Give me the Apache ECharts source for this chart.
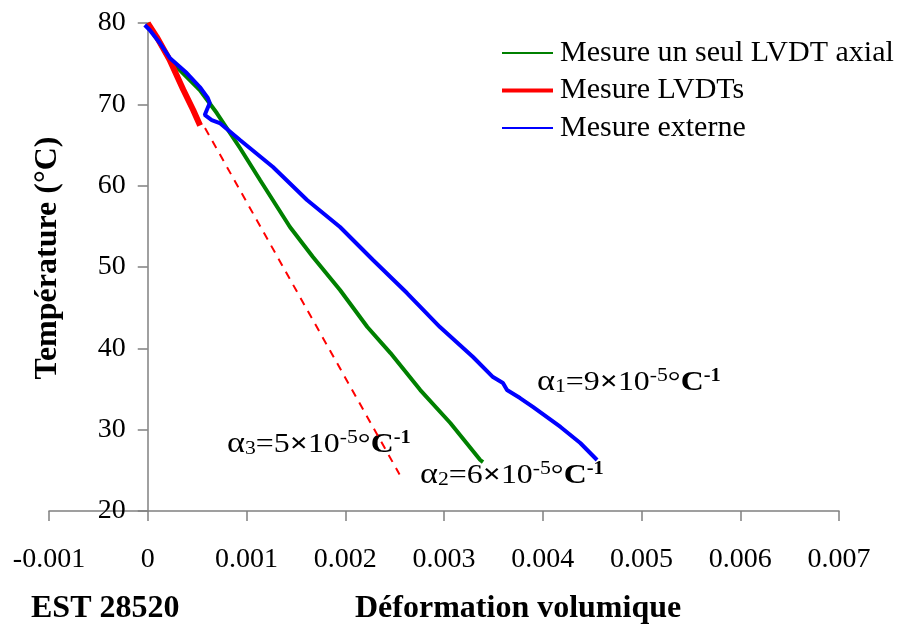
<!DOCTYPE html>
<html><head><meta charset="utf-8">
<script src="https://cdn.jsdelivr.net/npm/echarts@6/dist/echarts.min.js"></script>
<style>html,body{margin:0;padding:0;background:#fff}#c{width:907px;height:625px}</style>
</head><body><div id="c"></div>
<script>
// ---- data ----
const xTickLabels = ['-0.001','0','0.001','0.002','0.003','0.004','0.005','0.006','0.007'];
const yTickLabels = ['20','30','40','50','60','70','80'];
const seriesNames = ['Mesure un seul LVDT axial','Mesure LVDTs','Mesure externe'];

const greenX = [0, 0.000223, 0.000527, 0.000699, 0.000934, 0.001137, 0.00144, 0.001673, 0.001947, 0.002224, 0.002458, 0.00276, 0.003064, 0.003367, 0.003395];
const greenY = [80, 75.45, 71.76, 68.93, 64.63, 60.70, 54.92, 51.23, 47.17, 42.62, 39.42, 34.87, 30.82, 26.27, 26.02];

const redX = [0, 0.00009, 0.00022, 0.00036, 0.00046, 0.00053];
const redY = [80, 78.3, 75.5, 71.8, 69.3, 67.4];

const dashX = [0.00058, 0.00255];
const dashY = [67.1, 24.5];

const blueX = [-0.00003, 0.00002, 0.000122, 0.000223, 0.000395, 0.000527, 0.000608, 0.000628, 0.000598, 0.000577, 0.000648, 0.000729, 0.000934, 0.001268, 0.001613, 0.001947, 0.002281, 0.002625, 0.002959, 0.003294, 0.003496, 0.003597, 0.003638, 0.00377, 0.0039, 0.00418, 0.00438, 0.00455];
const blueY = [79.75, 79.14, 77.54, 75.70, 73.85, 72.13, 70.78, 70.16, 69.30, 68.69, 68.07, 67.70, 65.61, 62.29, 58.24, 54.92, 50.86, 46.80, 42.62, 38.93, 36.47, 35.74, 34.87, 33.89, 32.79, 30.33, 28.36, 26.27];

const zip = (xs, ys) => xs.map((x, i) => [x, ys[i]]);
const FONT = '"Liberation Serif", "Times New Roman", serif';

const rich = {
  n: {fontFamily: FONT, fontSize: 28, color: '#000', verticalAlign: 'bottom'},
  a: {fontFamily: FONT, fontSize: 30, color: '#000', verticalAlign: 'bottom'},
  s: {fontFamily: FONT, fontSize: 19, color: '#000', verticalAlign: 'bottom'},
  b: {fontFamily: FONT, fontSize: 28, fontWeight: 'bold', color: '#000', verticalAlign: 'bottom'},
  p: {fontFamily: FONT, fontSize: 19, color: '#000', verticalAlign: 'top'},
  c: {fontFamily: FONT, fontSize: 28, fontWeight: 'bold', color: '#000', verticalAlign: 'bottom'},
  pb: {fontFamily: FONT, fontSize: 18, fontWeight: 'bold', color: '#000', verticalAlign: 'top'}
};
const alphaText = (k, v) => '{a|α}{s|' + k + '}{n|=' + v + '}{b|×}{n|10}{p|-5}{n|°}{c|C}{pb|-1}';
const thin = 'path://M0,0 L0,0 M0,6 L51,6 L51,8 L0,8 Z M51,14 L51,14';
const thick = 'path://M0,0 L0,0 M0,5 L51,5 L51,9 L0,9 Z M51,14 L51,14';

const chart = echarts.init(document.getElementById('c'), null, {renderer: 'canvas'});
chart.setOption({
  animation: false,
  backgroundColor: '#fff',
  grid: {left: 49, right: 68, top: 23, bottom: 114, containLabel: false},
  xAxis: {
    type: 'value', min: -0.001, max: 0.007, interval: 0.001,
    axisLine: {show: true, onZero: false, lineStyle: {color: '#808080', width: 1.5}},
    axisTick: {show: true, inside: false, length: 10, lineStyle: {color: '#808080', width: 1.5}},
    splitLine: {show: false},
    axisLabel: {
      margin: 35, color: '#000', fontFamily: FONT, fontSize: 28,
      formatter: v => xTickLabels[Math.round((v + 0.001) / 0.001)]
    }
  },
  yAxis: {
    type: 'value', min: 20, max: 80, interval: 10, offset: -98.75,
    axisLine: {show: true, onZero: false, lineStyle: {color: '#808080', width: 1.5}},
    axisTick: {show: true, inside: false, length: 10, lineStyle: {color: '#808080', width: 1.5}},
    splitLine: {show: false},
    axisLabel: {
      margin: 22, color: '#000', fontFamily: FONT, fontSize: 28,
      formatter: v => yTickLabels[Math.round((v - 20) / 10)]
    }
  },
  legend: {
    orient: 'vertical', left: 502, top: 38, padding: 0, itemWidth: 51, itemHeight: 14, itemGap: 7.5,
    textStyle: {fontFamily: FONT, fontSize: 30, color: '#000', padding: [0, 0, 0, 2]},
    data: [
      {name: seriesNames[0], icon: thin, itemStyle: {color: '#008000'}},
      {name: seriesNames[1], icon: thick, itemStyle: {color: '#ff0000'}},
      {name: seriesNames[2], icon: thin, itemStyle: {color: '#0000ff'}}
    ]
  },
  series: [
    {name: seriesNames[0], type: 'line', data: zip(greenX, greenY), showSymbol: false, symbol: 'none',
      lineStyle: {color: '#008000', width: 4}, itemStyle: {color: '#008000'}, z: 3},
    {name: 'dash', type: 'line', data: zip(dashX, dashY), showSymbol: false, symbol: 'none',
      lineStyle: {color: '#ff0000', width: 2, type: [8, 7]}, z: 2},
    {name: seriesNames[1], type: 'line', data: zip(redX, redY), showSymbol: false, symbol: 'none',
      lineStyle: {color: '#ff0000', width: 6}, itemStyle: {color: '#ff0000'}, z: 4},
    {name: seriesNames[2], type: 'line', data: zip(blueX, blueY), showSymbol: false, symbol: 'none',
      lineStyle: {color: '#0000ff', width: 4}, itemStyle: {color: '#0000ff'}, z: 5}
  ],
  graphic: [
    {type: 'text', left: 537, top: 367, scaleX: 1.14, style: {text: alphaText(1, 9), rich: rich}},
    {type: 'text', left: 420, top: 460, scaleX: 1.14, style: {text: alphaText(2, 6), rich: rich}},
    {type: 'text', left: 227, top: 429, scaleX: 1.14, style: {text: alphaText(3, 5), rich: rich}},
    {type: 'text', left: 31, top: 593, style: {text: 'EST 28520', fontFamily: FONT, fontSize: 32, fontWeight: 'bold', fill: '#000'}},
    {type: 'text', left: 355, top: 593, style: {text: 'Déformation volumique', fontFamily: FONT, fontSize: 32, fontWeight: 'bold', fill: '#000'}},
    {type: 'text', x: 48, y: 258, rotation: Math.PI / 2,
      style: {text: 'Température (°C)', fontFamily: FONT, fontSize: 32, fontWeight: 'bold', fill: '#000', align: 'center', verticalAlign: 'middle'}}
  ]
});
</script>
</body></html>
